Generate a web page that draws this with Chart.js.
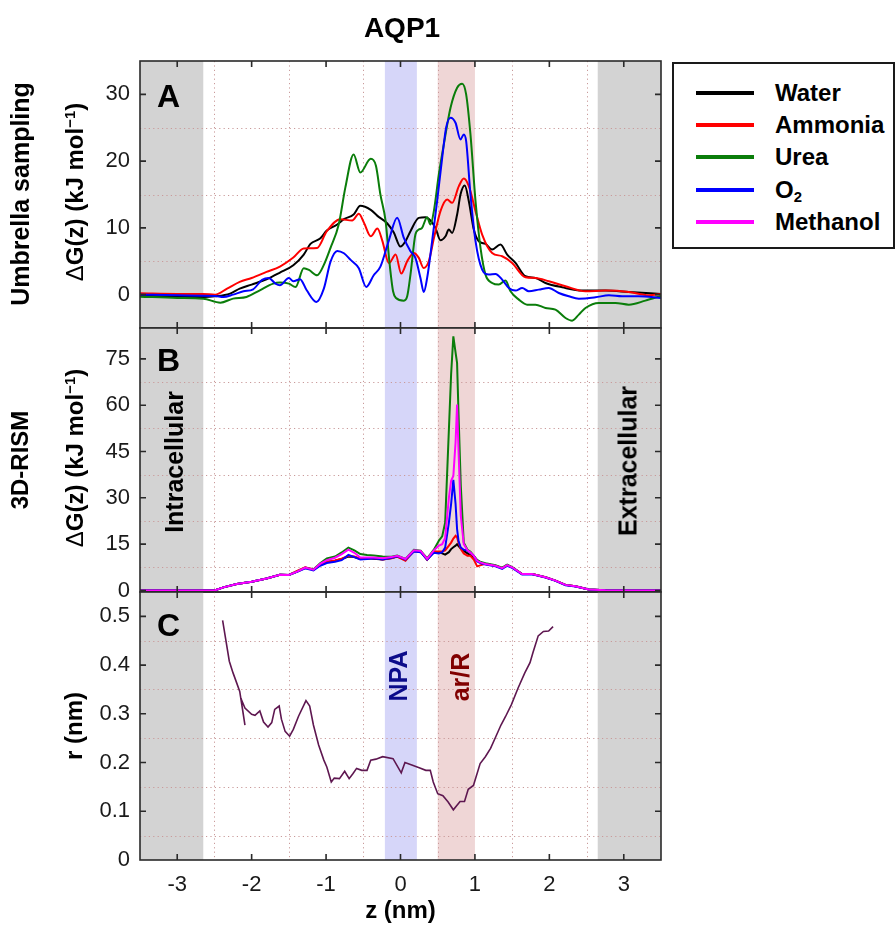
<!DOCTYPE html>
<html>
<head>
<meta charset="utf-8">
<title>AQP1</title>
<script src="https://cdn.jsdelivr.net/npm/chart.js@4.4.0/dist/chart.umd.min.js"></script>
<style>
  body { margin: 0; background: #fff; width: 895px; height: 928px; position: relative; overflow: hidden;
         font-family: "Liberation Sans", Arial, Helvetica, sans-serif; }
  canvas { position: absolute; left: 0; top: 0; }
  .txt { position: absolute; white-space: nowrap; font-weight: bold; line-height: 1; color: #000; }
  .mid { transform: translate(-50%, -50%); }
  .rot { transform: translate(-50%, -50%) rotate(-90deg); }
  .sup { font-size: 0.62em; position: relative; top: -0.55em; }
  .delta { font-weight: normal; }
  #legend { position: absolute; left: 672px; top: 62px; width: 223px; height: 187px; box-sizing: border-box;
            border: 2px solid #1a1a1a; background: #fff; }
  .item { position: absolute; left: 0; height: 0; }
  .item i { position: absolute; left: 22px; width: 58px; height: 4px; top: -2px; }
  .item span { position: absolute; left: 101px; top: 0; transform: translateY(-50%); font-weight: bold;
               font-size: 24px; line-height: 1; white-space: nowrap; }
  .item sub { font-size: 0.62em; position: relative; top: 0.25em; vertical-align: baseline; }
</style>
</head>
<body>
<canvas id="panelA" width="672" height="928"></canvas>
<canvas id="panelB" width="672" height="928"></canvas>
<canvas id="panelC" width="672" height="928"></canvas>

<div class="txt mid" style="left:402px;top:28px;font-size:28px;">AQP1</div>

<div class="txt rot" style="left:20px;top:194px;font-size:25px;">Umbrella sampling</div>
<div class="txt rot" style="left:75px;top:192px;font-size:24px;"><span class="delta">Δ</span>G(z) (kJ mol<span class="sup">−1</span>)</div>
<div class="txt rot" style="left:20px;top:460px;font-size:24px;">3D-RISM</div>
<div class="txt rot" style="left:75px;top:458px;font-size:24px;"><span class="delta">Δ</span>G(z) (kJ mol<span class="sup">−1</span>)</div>
<div class="txt rot" style="left:74px;top:726px;font-size:24px;">r (nm)</div>

<div class="txt" style="left:157px;top:96px;font-size:32px;transform:translateY(-50%);">A</div>
<div class="txt" style="left:157px;top:360px;font-size:32px;transform:translateY(-50%);">B</div>
<div class="txt" style="left:157px;top:625px;font-size:32px;transform:translateY(-50%);">C</div>

<div class="txt rot" style="left:174px;top:462px;font-size:25px;">Intracellular</div>
<div class="txt rot" style="left:628px;top:461px;font-size:25px;">Extracellular</div>
<div class="txt rot" style="left:398px;top:676px;font-size:25px;color:#0b0b8a;">NPA</div>
<div class="txt rot" style="left:460px;top:677px;font-size:25px;color:#800000;">ar/R</div>

<div id="legend">
  <div class="item" style="top:29px"><i style="background:#000"></i><span>Water</span></div>
  <div class="item" style="top:61px"><i style="background:#ff0000"></i><span>Ammonia</span></div>
  <div class="item" style="top:93px"><i style="background:#0a7d0a"></i><span>Urea</span></div>
  <div class="item" style="top:126px"><i style="background:#0000ff"></i><span>O<sub>2</sub></span></div>
  <div class="item" style="top:158px"><i style="background:#ff00ff"></i><span>Methanol</span></div>
</div>

<script>
// --- datos -------------------------------------------------------------------
// eje z (nm), compartido por los tres paneles
const zTicks = [-3, -2, -1, 0, 1, 2, 3];
const zDotted = [-2.5, -1.5, -0.5, 0.5, 1.5, 2.5];
const membraneIn = [-3.5, -2.65];
const membraneOut = [2.65, 3.5];
const npaBand = [-0.21, 0.22];
const arrBand = [0.5, 1.0];

// Panel A: umbrella sampling, ΔG(z) kJ/mol
const gTicksA = [0, 10, 20, 30];
const gDottedA = [5, 15, 25];

const zWaterA = [-3.5, -3.0, -2.65, -2.49, -2.29, -2.16, -2.0, -1.8, -1.62, -1.44, -1.3, -1.21, -1.08, -0.99,
  -0.85, -0.76, -0.63, -0.54, -0.4, -0.31, -0.18, -0.09, 0, 0.067, 0.134, 0.246, 0.336, 0.403, 0.47, 0.537,
  0.605, 0.649, 0.694, 0.761, 0.806, 0.864, 0.918, 0.985, 1.052, 1.142, 1.231, 1.343, 1.433, 1.545, 1.679,
  1.814, 1.948, 2.172, 2.441, 2.754, 3.068, 3.5];
const gWaterA = [-0.15, -0.3, -0.35, -0.25, 0.15, 0.9, 1.5, 2.3, 3.3, 4.4, 6.0, 7.6, 8.4, 9.6,
  10.5, 11.3, 12.0, 13.3, 12.7, 11.8, 10.7, 9.3, 7.2, 8.0, 9.5, 11.5, 11.6, 11.1, 10.0, 8.15,
  8.75, 9.75, 9.25, 12.0, 15.0, 16.35, 14.0, 9.75, 8.0, 7.6, 6.75, 7.5, 6.0, 4.75, 2.75,
  2.5, 1.75, 1.1, 0.6, 0.6, 0.4, 0.1];

const zAmmoniaA = [-3.5, -3.0, -2.65, -2.49, -2.33, -2.16, -2.0, -1.8, -1.62, -1.44, -1.3, -1.12, -0.99, -0.81,
  -0.65, -0.56, -0.49, -0.4, -0.31, -0.245, -0.155, -0.065, 0.01, 0.09, 0.18, 0.246, 0.31, 0.38, 0.45, 0.537,
  0.627, 0.694, 0.784, 0.851, 0.918, 1.008, 1.097, 1.231, 1.366, 1.5, 1.679, 1.814, 1.993, 2.217, 2.485,
  2.754, 3.068, 3.336, 3.5];
const gAmmoniaA = [0.2, 0.1, 0.1, 0.0, 0.9, 1.9, 2.5, 3.4, 4.2, 5.55, 6.9, 7.0, 9.5, 11.3,
  11.1, 12.1, 10.75, 8.75, 9.9, 8.1, 4.7, 6.0, 3.15, 5.0, 6.25, 5.5, 4.0, 5.0, 8.5, 12.5,
  14.25, 13.75, 16.25, 17.4, 16.25, 12.5, 9.0, 6.25, 5.75, 4.75, 2.6, 2.5, 2.0, 1.25, 0.5,
  0.6, 0.4, -0.1, 0.1];

const zUreaA = [-3.5, -3.0, -2.65, -2.42, -2.25, -2.07, -1.89, -1.71, -1.62, -1.5, -1.41, -1.3, -1.23, -1.12,
  -1.03, -0.94, -0.83, -0.74, -0.63, -0.54, -0.4, -0.33, -0.27, -0.2, -0.15, -0.1, -0.06, 0.045, 0.09, 0.134,
  0.2, 0.246, 0.29, 0.358, 0.403, 0.448, 0.515, 0.582, 0.672, 0.761, 0.828, 0.882, 0.94, 1.008, 1.075,
  1.142, 1.231, 1.321, 1.411, 1.478, 1.59, 1.702, 1.814, 1.948, 2.082, 2.217, 2.306, 2.396, 2.485, 2.665,
  2.888, 3.068, 3.29, 3.5];
const gUreaA = [-0.3, -0.5, -0.6, -1.2, -0.6, -0.35, 0.65, 1.65, 1.8, 1.65, 1.15, 3.95, 3.7, 2.9,
  4.45, 7.0, 10.5, 16.1, 21.0, 18.3, 20.35, 19.3, 15.0, 11.0, 5.0, 0.5, -0.5, -0.9, -0.25, 3.0,
  9.0, 9.75, 10.0, 11.6, 10.5, 12.5, 18.0, 22.5, 28.0, 31.0, 31.6, 30.0, 24.0, 14.0, 7.0,
  3.0, 1.75, 1.5, 2.1, 0.5, -0.75, -1.5, -1.5, -2.0, -2.25, -3.5, -3.9, -3.0, -2.0, -1.25,
  -1.25, -1.5, -0.9, -0.2];

const zO2A = [-3.5, -3.0, -2.49, -2.38, -2.25, -2.11, -1.98, -1.86, -1.77, -1.68, -1.62, -1.5, -1.44, -1.35,
  -1.26, -1.13, -1.03, -0.94, -0.85, -0.76, -0.67, -0.56, -0.46, -0.36, -0.27, -0.157, -0.045, 0.045, 0.134,
  0.2, 0.268, 0.313, 0.358, 0.425, 0.492, 0.56, 0.613, 0.672, 0.739, 0.806, 0.851, 0.882, 0.94, 1.008,
  1.097, 1.187, 1.276, 1.366, 1.455, 1.545, 1.635, 1.724, 1.858, 1.993, 2.127, 2.261, 2.396, 2.62, 2.8,
  2.978, 3.2, 3.5];
const gO2A = [0.0, -0.1, -0.2, -0.35, 0.0, 0.5, 0.8, 2.2, 2.5, 1.65, 1.4, 2.5, 2.0, 2.3,
  0.65, -1.1, 0.9, 4.95, 6.55, 6.2, 5.2, 3.95, 1.15, 2.9, 4.2, 8.1, 11.5, 8.5, 6.5,
  5.5, 2.5, 0.4, 2.5, 8.0, 14.0, 20.5, 25.0, 26.5, 25.75, 23.25, 24.0, 23.0, 15.0, 8.0,
  3.75, 3.0, 3.1, 2.25, 1.0, 0.6, 1.0, 0.5, 0.75, 1.0, 0.25, -0.25, -0.6, -0.4, -0.1,
  -0.25, -0.25, -0.5];

// Panel B: 3D-RISM, mismo eje z para los cinco solutos
const gTicksB = [0, 15, 30, 45, 60, 75];
const gDottedB = [7.5, 22.5, 37.5, 52.5, 67.5];

const zB = [-3.5, -2.9, -2.5, -2.38, -2.2, -2.0, -1.8, -1.62, -1.5, -1.39,
  -1.28, -1.17, -1.08, -0.99, -0.88, -0.79, -0.70, -0.62, -0.54, -0.45,
  -0.36, -0.24, -0.12, -0.045, 0.067, 0.18, 0.27, 0.358, 0.448, 0.515,
  0.56, 0.60, 0.65, 0.68, 0.71, 0.74, 0.76, 0.78, 0.81, 0.85,
  0.90, 0.94, 0.985, 1.03, 1.08, 1.142, 1.276, 1.366, 1.433, 1.5,
  1.634, 1.769, 1.948, 2.082, 2.217, 2.351, 2.53, 2.754, 3.1, 3.5];
const gWaterB = [0, 0, 0, 1.0, 2.1, 2.85, 3.9, 5.1, 5.0, 6.1,
  7.4, 6.7, 8.3, 9.2, 9.6, 10.2, 11.0, 10.8, 10.2, 10.4,
  10.3, 10.0, 10.5, 11.0, 10.0, 12.8, 12.6, 10.0, 12.6, 12.4,
  12.0, 11.6, 12.4, 13.4, 14.0, 14.5, 15.0, 14.4, 13.6, 12.8,
  12.0, 11.4, 11.0, 9.8, 9.0, 8.6, 8.0, 7.2, 8.2, 7.5,
  5.3, 5.3, 4.3, 3.2, 1.8, 1.35, 0.3, 0.05, 0, 0];
const gAmmoniaB = [0, 0, 0, 1.0, 2.1, 2.85, 3.9, 5.1, 5.0, 6.3,
  7.5, 6.8, 8.3, 9.3, 9.7, 10.3, 11.2, 11.0, 10.3, 10.5,
  10.4, 10.0, 10.4, 11.0, 9.6, 12.8, 12.7, 10.0, 12.6, 12.6,
  12.6, 13.0, 14.5, 15.5, 16.8, 17.7, 17.2, 15.5, 13.4, 12.0,
  11.2, 11.2, 10.0, 7.8, 8.2, 8.6, 8.0, 7.2, 8.2, 7.5,
  5.3, 5.3, 4.3, 3.2, 1.8, 1.35, 0.3, 0.05, 0, 0];
const gUreaB = [0, 0, 0, 1.0, 2.1, 2.85, 3.9, 5.1, 5.0, 6.1,
  7.3, 6.8, 8.8, 10.4, 11.0, 12.3, 13.9, 13.0, 11.8, 11.5,
  11.3, 11.0, 10.9, 11.3, 10.2, 13.2, 12.9, 10.4, 13.2, 16.1,
  17.5, 22.0, 52.0, 70.0, 82.3, 77.0, 73.7, 57.0, 34.0, 15.5,
  13.2, 12.5, 11.2, 9.8, 9.2, 8.8, 8.2, 7.4, 8.4, 7.6,
  5.3, 5.3, 4.3, 3.2, 1.8, 1.35, 0.3, 0.05, 0, 0];
const gO2B = [0, 0, 0, 1.0, 2.1, 2.85, 3.9, 5.1, 5.0, 6.0,
  7.2, 6.5, 8.0, 8.9, 9.3, 9.8, 11.5, 10.8, 10.0, 10.2,
  10.4, 10.0, 10.6, 11.1, 10.0, 12.6, 12.4, 10.0, 12.2, 12.0,
  12.4, 13.9, 22.0, 28.0, 35.8, 28.0, 19.9, 16.0, 13.9, 13.2,
  12.9, 12.2, 11.2, 9.4, 8.8, 8.4, 7.8, 7.0, 8.0, 7.3,
  5.2, 5.2, 4.2, 3.1, 1.7, 1.3, 0.3, 0.05, 0, 0];
const gMethanolB = [0, 0, 0, 1.0, 2.1, 2.85, 3.9, 5.1, 5.0, 6.1,
  7.4, 6.7, 8.6, 9.8, 10.6, 11.8, 13.2, 12.2, 10.7, 10.7,
  10.7, 10.4, 10.8, 11.2, 10.2, 13.0, 12.8, 10.2, 13.0, 14.5,
  15.0, 17.0, 30.0, 35.5, 37.1, 48.0, 60.2, 45.0, 24.2, 15.0,
  13.0, 12.3, 11.2, 9.6, 9.0, 8.6, 8.0, 7.2, 8.2, 7.5,
  5.3, 5.3, 4.3, 3.2, 1.8, 1.35, 0.3, 0.05, 0, 0];

// Panel C: radio del poro r (nm)
const rTicks = [0, 0.1, 0.2, 0.3, 0.4, 0.5];
const rDotted = [0.05, 0.15, 0.25, 0.35, 0.45];
const zPore = [-2.39, -2.30, -2.25, -2.20, -2.16, -2.09, -2.145, -2.09, -2.0, -1.955,
  -1.89, -1.84, -1.78, -1.73, -1.69, -1.63, -1.6, -1.55, -1.49, -1.44,
  -1.37, -1.27, -1.22, -1.17, -1.10, -1.03, -0.99, -0.93, -0.89, -0.82,
  -0.75, -0.69, -0.64, -0.59, -0.52, -0.45, -0.40, -0.33, -0.24, -0.10,
  0.01, 0.06, 0.17, 0.26, 0.34, 0.40, 0.44, 0.50, 0.57, 0.64,
  0.71, 0.80, 0.86, 0.91, 0.98, 1.07, 1.14, 1.21, 1.28, 1.35,
  1.41, 1.49, 1.58, 1.67, 1.74, 1.78, 1.85, 1.92, 1.99, 2.05];
const rPore = [0.492, 0.408, 0.384, 0.363, 0.346, 0.277, 0.332, 0.312, 0.299, 0.297,
  0.306, 0.283, 0.273, 0.282, 0.309, 0.316, 0.289, 0.264, 0.254, 0.268,
  0.295, 0.327, 0.316, 0.277, 0.236, 0.205, 0.191, 0.160, 0.168, 0.167,
  0.182, 0.167, 0.177, 0.188, 0.184, 0.184, 0.205, 0.207, 0.212, 0.208,
  0.179, 0.200, 0.194, 0.189, 0.184, 0.184, 0.160, 0.136, 0.132, 0.119,
  0.103, 0.120, 0.120, 0.145, 0.153, 0.198, 0.212, 0.229, 0.253, 0.277,
  0.294, 0.319, 0.353, 0.384, 0.405, 0.426, 0.460, 0.469, 0.470, 0.479];

// --- estilo ------------------------------------------------------------------
const FONT = '"Liberation Sans", Arial, Helvetica, sans-serif';
Chart.defaults.font.family = FONT;
const COLORS = { water: '#000000', ammonia: '#ff0000', urea: '#0a7d0a', o2: '#0000ff', methanol: '#ff00ff', pore: '#5e1750' };

const pts = (zs, vs) => zs.map((z, i) => ({ x: z, y: vs[i] }));

function serie(zs, vs, color, order, smooth) {
  return {
    data: pts(zs, vs),
    borderColor: color,
    borderWidth: 2,
    showLine: true,
    pointRadius: 0,
    order: order,
    cubicInterpolationMode: smooth ? 'monotone' : 'default',
    tension: smooth ? 0.4 : 0,
  };
}

// bandas, rejilla punteada, marco y marcas hacia dentro
const panelDecor = {
  id: 'panelDecor',
  beforeDatasetsDraw(chart, args, opts) {
    const { ctx, chartArea: a, scales: { x, y } } = chart;
    ctx.save();
    ctx.beginPath();
    ctx.rect(a.left, a.top, a.right - a.left, a.bottom - a.top);
    ctx.clip();
    const band = (b, color) => {
      const p0 = x.getPixelForValue(b[0]);
      const p1 = x.getPixelForValue(b[1]);
      ctx.fillStyle = color;
      ctx.fillRect(p0, a.top, p1 - p0, a.bottom - a.top);
    };
    band(membraneIn, '#d3d3d3');
    band(membraneOut, '#d3d3d3');
    band(npaBand, '#d6d6f9');
    band(arrBand, '#efd6d6');

    ctx.strokeStyle = '#c99a9a';
    ctx.lineWidth = 1;
    ctx.setLineDash([1.2, 3.2]);
    zDotted.forEach((z) => {
      const px = Math.round(x.getPixelForValue(z)) + 0.5;
      ctx.beginPath(); ctx.moveTo(px, a.top); ctx.lineTo(px, a.bottom); ctx.stroke();
    });
    opts.dotted.forEach((v) => {
      const py = Math.round(y.getPixelForValue(v)) + 0.5;
      ctx.beginPath(); ctx.moveTo(a.left, py); ctx.lineTo(a.right, py); ctx.stroke();
    });
    ctx.restore();
  },
  afterDatasetsDraw(chart, args, opts) {
    const { ctx, chartArea: a, scales: { x, y } } = chart;
    ctx.save();
    ctx.strokeStyle = '#2a2a2a';
    ctx.lineWidth = 1.6;
    ctx.strokeRect(a.left, a.top, a.right - a.left, a.bottom - a.top);
    const L = 6;
    ctx.beginPath();
    zTicks.forEach((z) => {
      const px = x.getPixelForValue(z);
      ctx.moveTo(px, a.top); ctx.lineTo(px, a.top + L);
      ctx.moveTo(px, a.bottom); ctx.lineTo(px, a.bottom - L);
    });
    opts.major.forEach((v) => {
      const py = y.getPixelForValue(v);
      if (py <= a.top + 1 || py >= a.bottom - 1) return;
      ctx.moveTo(a.left, py); ctx.lineTo(a.left + L, py);
      ctx.moveTo(a.right, py); ctx.lineTo(a.right - L, py);
    });
    ctx.stroke();
    ctx.restore();
  },
};

function panel(canvasId, datasets, yMin, yMax, major, dotted, fmt, padTop, padBottom, showX) {
  const xScale = {
    type: 'linear',
    min: -3.5,
    max: 3.5,
    display: showX,
    afterBuildTicks: (s) => { s.ticks = zTicks.map((v) => ({ value: v })); },
    grid: { display: false, drawTicks: false },
    border: { display: false },
    ticks: { padding: 12, color: '#1a1a1a', font: { size: 22 }, maxRotation: 0, autoSkip: false },
    title: {
      display: showX, text: 'z (nm)', color: '#000',
      font: { size: 24, weight: 'bold' }, padding: { top: 0, bottom: 2 },
    },
  };
  if (showX) xScale.afterFit = (s) => { s.height = 68; };

  return new Chart(document.getElementById(canvasId), {
    type: 'scatter',
    data: { datasets },
    options: {
      responsive: false,
      animation: false,
      layout: { padding: { left: 0, right: 11, top: padTop, bottom: padBottom } },
      plugins: {
        legend: { display: false },
        tooltip: { enabled: false },
        panelDecor: { major, dotted },
      },
      scales: {
        x: xScale,
        y: {
          type: 'linear',
          min: yMin,
          max: yMax,
          afterFit: (s) => { s.width = 140; },
          afterBuildTicks: (s) => { s.ticks = major.map((v) => ({ value: v })); },
          grid: { display: false, drawTicks: false },
          border: { display: false },
          ticks: { padding: 10, color: '#1a1a1a', font: { size: 22 }, callback: fmt },
        },
      },
    },
    plugins: [panelDecor],
  });
}

panel('panelA', [
  serie(zWaterA, gWaterA, COLORS.water, 4, true),
  serie(zAmmoniaA, gAmmoniaA, COLORS.ammonia, 3, true),
  serie(zUreaA, gUreaA, COLORS.urea, 2, true),
  serie(zO2A, gO2A, COLORS.o2, 1, true),
], -5, 35, gTicksA, gDottedA, (v) => String(v), 61, 600, false);

panel('panelB', [
  serie(zB, gWaterB, COLORS.water, 4, false),
  serie(zB, gAmmoniaB, COLORS.ammonia, 3, false),
  serie(zB, gUreaB, COLORS.urea, 2, false),
  serie(zB, gO2B, COLORS.o2, 1, false),
  serie(zB, gMethanolB, COLORS.methanol, 0, false),
], -0.5, 85, gTicksB, gDottedB, (v) => String(v), 328, 336, false);

const pore = serie(zPore, rPore, COLORS.pore, 0, false);
pore.borderWidth = 1.6;
panel('panelC', [pore], 0, 0.55, rTicks, rDotted,
  (v) => (v === 0 ? '0' : v.toFixed(1)), 592, 0, true);
</script>
</body>
</html>
